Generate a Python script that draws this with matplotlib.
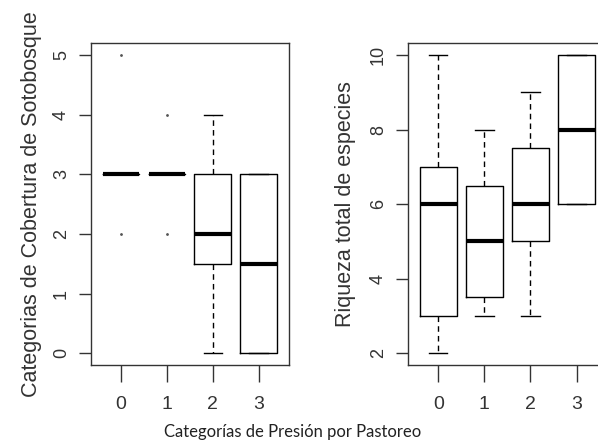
import matplotlib
matplotlib.use("Agg")
import matplotlib.pyplot as plt

# categorias de presion por pastoreo
groups = [0, 1, 2, 3]
group_labels = ["0", "1", "2", "3"]

# panel izquierdo: cobertura de sotobosque
cob_q1 = [3, 3, 1.5, 0]
cob_med = [3, 3, 2, 1.5]
cob_q3 = [3, 3, 3, 3]
cob_lo = [3, 3, 0, 0]
cob_hi = [3, 3, 4, 3]
cob_out = [[2, 5], [2, 4], [], []]
cob_ticks = [0, 1, 2, 3, 4, 5]

# panel derecho: riqueza total de especies
riq_q1 = [3, 3.5, 5, 6]
riq_med = [6, 5, 6, 8]
riq_q3 = [7, 6.5, 7.5, 10]
riq_lo = [2, 3, 3, 6]
riq_hi = [10, 8, 9, 10]
riq_out = [[], [], [], []]
riq_ticks = [2, 4, 6, 8, 10]


def make_stats(q1, med, q3, lo, hi, out):
    stats = []
    for i in range(len(med)):
        stats.append({"q1": q1[i], "med": med[i], "q3": q3[i],
                      "whislo": lo[i], "whishi": hi[i], "fliers": out[i]})
    return stats


def r_boxplot(ax, stats, ticks, ylabel, labelpad):
    ax.bxp(stats, positions=groups, widths=0.8, showfliers=True,
           boxprops=dict(color="black", linewidth=1.0),
           medianprops=dict(color="black", linewidth=3.0, solid_capstyle="butt"),
           whiskerprops=dict(color="black", linewidth=1.0, linestyle=(0, (4, 3))),
           capprops=dict(color="black", linewidth=1.0),
           capwidths=0.4,
           flierprops=dict(marker=".", markersize=2, markerfacecolor="#555555",
                           markeredgecolor="#555555", linestyle="none"))
    lo, hi = ticks[0], ticks[-1]
    pad = (hi - lo) * 0.04
    ax.set_ylim(lo - pad, hi + pad)
    ax.set_xlim(-0.66, 3.66)
    ax.set_yticks(ticks)
    ax.set_yticklabels([str(t) for t in ticks], rotation=90, va="center",
                       fontsize=13, family="Liberation Sans", color="#333333")
    ax.set_xticks(groups)
    ax.set_xticklabels(group_labels, fontsize=14,
                       family="Liberation Sans", color="#333333")
    ax.tick_params(axis="y", length=9, width=1, pad=6, color="#333333")
    ax.tick_params(axis="x", length=12, width=1, pad=10, color="#333333")
    for s in ax.spines.values():
        s.set_linewidth(1.0)
        s.set_color("#333333")
    ax.set_ylabel(ylabel, fontsize=15.5, family="Liberation Sans",
                  color="#333333", labelpad=labelpad)


fig = plt.figure(figsize=(5.98, 4.41), dpi=100)

ax1 = fig.add_axes([0.152, 0.172, 0.331, 0.73])
r_boxplot(ax1, make_stats(cob_q1, cob_med, cob_q3, cob_lo, cob_hi, cob_out),
          cob_ticks, "Categorias de Cobertura de Sotobosque", 8)

ax2 = fig.add_axes([0.682, 0.172, 0.333, 0.73])
r_boxplot(ax2, make_stats(riq_q1, riq_med, riq_q3, riq_lo, riq_hi, riq_out),
          riq_ticks, "Riqueza total de especies", 10)

fig.text(0.489, 0.008, "Categorías de Presión por Pastoreo", ha="center", va="baseline",
         fontsize=12, family=["Lato", "DejaVu Sans"], color="#222222")

fig.savefig("out.png", dpi=100)
